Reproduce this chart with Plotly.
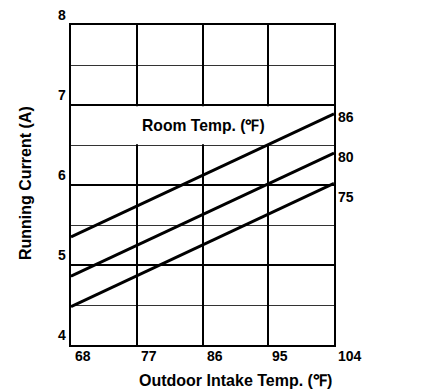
import plotly.graph_objects as go

# ---- data ----
outdoor_temp = [68, 104]
room_temps = ["86", "80", "75"]
current_86 = [5.35, 6.89]
current_80 = [4.86, 6.40]
current_75 = [4.48, 6.02]
label_y = [6.85, 6.35, 5.85]

x_ticks = [68, 77, 86, 95, 104]
y_ticks = [4, 5, 6, 7, 8]

FONT = "Arial, Liberation Sans, sans-serif"

fig = go.Figure()
for name, vals in zip(room_temps, [current_86, current_80, current_75]):
    fig.add_trace(go.Scatter(x=outdoor_temp, y=vals, mode="lines",
                             line=dict(color="black", width=3),
                             name=name, showlegend=False, cliponaxis=False))

annotations = []
for t in x_ticks:
    annotations.append(dict(x=t, y=4, xref="x", yref="y", text=f"<b>{t}</b>",
                            showarrow=False, xanchor="left", yanchor="middle",
                            xshift=2, yshift=-11,
                            font=dict(family=FONT, size=14, color="black")))
for t in y_ticks:
    annotations.append(dict(x=68, y=t, xref="x", yref="y", text=f"<b>{t}</b>",
                            showarrow=False, xanchor="right", yanchor="middle",
                            xshift=-3, yshift=10,
                            font=dict(family=FONT, size=14, color="black")))
for name, ly in zip(room_temps, label_y):
    annotations.append(dict(x=104, y=ly, xref="x", yref="y", text=f"<b>{name}</b>",
                            showarrow=False, xanchor="left", yanchor="middle",
                            xshift=2,
                            font=dict(family=FONT, size=14, color="black")))
annotations.append(dict(x=86.2, y=6.75, xref="x", yref="y",
                        text="<b>Room Temp. (℉)</b>", showarrow=False,
                        xanchor="center", yanchor="middle",
                        font=dict(family=FONT, size=15.7, color="black")))
annotations.append(dict(x=0.5, y=0, xref="paper", yref="paper",
                        text="<b>Outdoor Intake Temp. (℉)</b>", showarrow=False,
                        xanchor="center", yanchor="middle", xshift=33, yshift=-35,
                        font=dict(family=FONT, size=16, color="black")))
annotations.append(dict(x=0, y=0.5, xref="paper", yref="paper",
                        text="<b>Running Current (A)</b>", showarrow=False,
                        textangle=-90, xanchor="center", yanchor="middle",
                        xshift=-46, yshift=2,
                        font=dict(family=FONT, size=16, color="black")))

fig.update_layout(
    width=437, height=383,
    margin=dict(l=63, r=111, t=17, b=46),
    paper_bgcolor="white", plot_bgcolor="white",
    annotations=annotations,
    shapes=[dict(type="rect", xref="x", yref="y", x0=68, x1=104, y0=6.51, y1=6.985,
                 fillcolor="white", line=dict(width=0), layer="between")],
)
fig.update_xaxes(range=[68, 104], tick0=68, dtick=9, showticklabels=False, ticks="",
                 showgrid=True, gridcolor="black", gridwidth=2,
                 showline=True, linecolor="black", linewidth=2, mirror=True,
                 zeroline=False)
fig.update_yaxes(range=[4, 8], tick0=4, dtick=1, showticklabels=False, ticks="",
                 showgrid=True, gridcolor="black", gridwidth=2,
                 minor=dict(dtick=0.5, showgrid=True, gridcolor="#333333", gridwidth=1),
                 showline=True, linecolor="black", linewidth=2, mirror=True,
                 zeroline=False)

fig.write_html("out.html")
